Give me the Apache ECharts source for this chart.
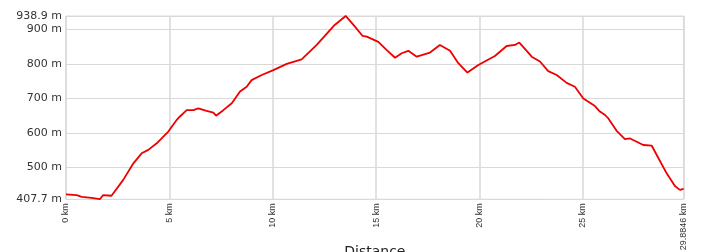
<!DOCTYPE html>
<html>
<head>
<meta charset="utf-8">
<script src="https://cdn.jsdelivr.net/npm/echarts@6/dist/echarts.min.js"></script>
<style>html,body{margin:0;padding:0;background:#fff}#c{width:718px;height:252px}</style>
</head>
<body>
<div id="c"></div>
<script>
const distKm = [0, 0.52, 0.76, 1.24, 1.64, 1.8, 2.2, 2.77, 3.26, 3.66, 3.98, 4.39, 4.95, 5.36, 5.5, 5.84, 6.16, 6.4, 6.8, 7.13, 7.26, 7.61, 8.02, 8.42, 8.74, 8.98, 9.47, 10.03, 10.68, 11.4, 12.13, 13.0, 13.53, 13.98, 14.35, 14.55, 15.11, 15.52, 15.92, 16.24, 16.56, 16.97, 17.61, 18.09, 18.58, 18.98, 19.42, 19.95, 20.75, 21.32, 21.72, 21.93, 22.29, 22.53, 22.93, 23.33, 23.74, 24.22, 24.62, 25.03, 25.59, 25.83, 26.08, 26.24, 26.64, 27.04, 27.29, 27.93, 28.34, 28.58, 29.06, 29.46, 29.7, 29.8846];
const elevM = [422, 420, 415, 412, 408, 420, 418, 464, 512, 541, 551, 570, 604, 638, 647, 666, 666, 671, 664, 659, 650, 666, 686, 720, 734, 753, 768, 782, 800, 813, 855, 913, 939, 908, 881, 879, 864, 840, 818, 831, 838, 821, 833, 855, 838, 802, 775, 797, 823, 852, 855, 862, 838, 821, 807, 779, 768, 745, 734, 700, 678, 662, 652, 642, 606, 582, 584, 565, 563, 536, 483, 446, 435, 438];
const xTicks = [0, 5, 10, 15, 20, 25, 29.8846];
const yTicks = [407.7, 500, 600, 700, 800, 900, 938.9];
const xMin = 0, xMax = 29.8846, yMin = 407.7, yMax = 938.9;

const chart = echarts.init(document.getElementById('c'), null, {renderer: 'canvas'});
const gridColor = '#d9d9d9';
chart.setOption({
  animation: false,
  grid: {left: 66, right: 34.3, top: 16, bottom: 52.7, containLabel: false, outerBoundsMode: 'none',
    show: true, borderColor: gridColor, borderWidth: 1, backgroundColor: '#fff'},
  xAxis: {
    type: 'value', min: xMin, max: xMax,
    name: 'Distance', nameLocation: 'middle', nameGap: 46, nameMoveOverlap: false,
    nameTextStyle: {fontFamily: 'DejaVu Sans', fontSize: 14, color: '#222'},
    axisLine: {show: false}, axisTick: {show: false, customValues: xTicks},
    splitLine: {show: true, lineStyle: {color: gridColor, width: 1.5}, customValues: xTicks},
    axisLabel: {customValues: xTicks, rotate: 90, margin: 4, fontFamily: 'Liberation Sans', fontSize: 9, color: '#333',
      formatter: v => v + ' km', showMinLabel: true, showMaxLabel: true, hideOverlap: false}
  },
  yAxis: {
    type: 'value', min: yMin, max: yMax,
    axisLine: {show: false}, axisTick: {show: false, customValues: yTicks},
    splitLine: {show: true, lineStyle: {color: gridColor, width: 1}, customValues: yTicks},
    axisLabel: {customValues: yTicks, margin: 4, fontFamily: 'DejaVu Sans', fontSize: 11, color: '#333',
      formatter: v => v + ' m', showMinLabel: true, showMaxLabel: true, hideOverlap: false}
  },
  series: [{
    type: 'line', data: distKm.map((d, i) => [d, elevM[i]]),
    showSymbol: false, symbol: 'none',
    lineStyle: {color: '#ee0000', width: 1.8}
  }]
});
</script>
</body>
</html>
